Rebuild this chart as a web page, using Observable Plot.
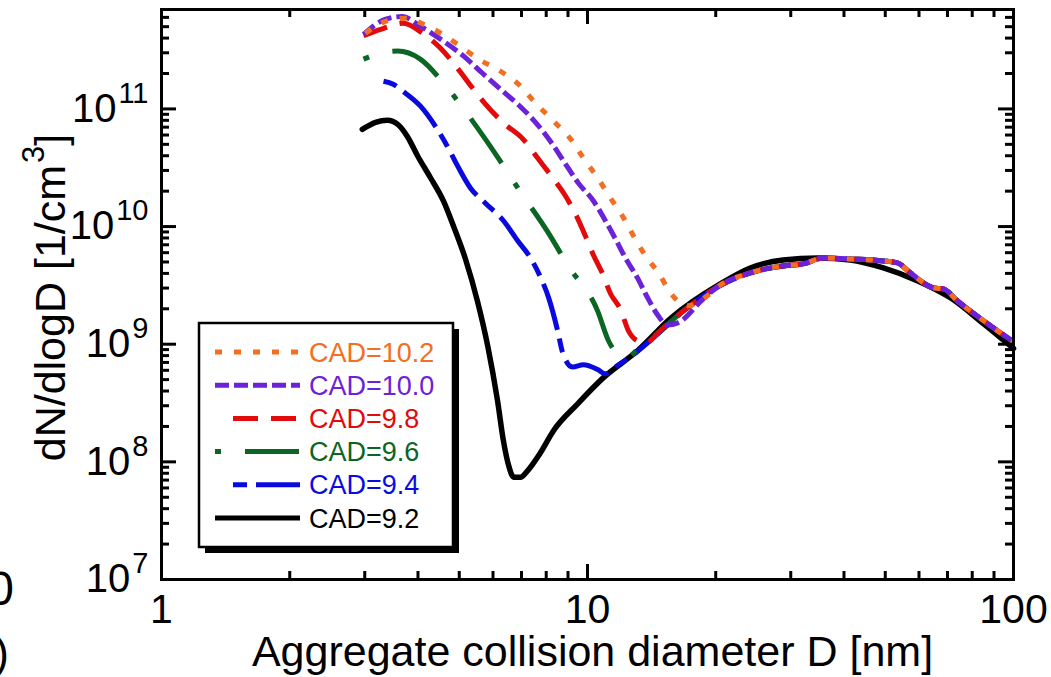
<!DOCTYPE html>
<html><head><meta charset="utf-8">
<script src="https://cdn.jsdelivr.net/npm/d3@7"></script>
<script src="https://cdn.jsdelivr.net/npm/@observablehq/plot@0.6"></script>
<style>
html,body{margin:0;padding:0;background:#fff;}
#wrap{position:relative;width:1051px;height:677px;overflow:hidden;font-family:"Liberation Sans",Arial,sans-serif;}
#overlay{position:absolute;left:0;top:0;pointer-events:none;}
</style></head><body><div id="wrap"></div>
<script>
// ---------- data ----------
const seriesNames = ["CAD=10.2","CAD=10.0","CAD=9.8","CAD=9.6","CAD=9.4","CAD=9.2"];
const seriesColors = ["#f26f21","#6b22d9","#e20a0a","#0b6623","#0a0adf","#000000"];
const seriesDash = ["7,12","14,5","25,13","6,24,54,24","14,9,48,9",null];

// CAD=9.2 (black)
const cad92D = [2.96,3.18,3.39,3.60,3.78,3.99,4.28,4.59,4.85,5.17,5.52,5.83,6.15,6.35,6.53,6.71,6.96,7.23,7.76,8.32,9.47,10.9,13.1,15.7,20.5,24.1,28.8,34.7,41.4,49.5,59.6,71.1,85.1,100];
const cad92N = [6.7e10,7.7e10,8.0e10,7.3e10,5.8e10,4.0e10,2.6e10,1.65e10,1.0e10,5.3e9,2.3e9,9.7e8,3.3e8,1.5e8,9.3e7,7.4e7,7.4e7,8.4e7,1.2e8,1.84e8,3.1e8,5.2e8,8.8e8,1.67e9,3.26e9,4.45e9,5.2e9,5.4e9,5.2e9,4.45e9,3.45e9,2.48e9,1.49e9,9.2e8];
// CAD=9.4 (blue)
const cad94D = [3.32,3.50,3.68,4.05,4.42,4.69,4.95,5.31,5.76,6.35,6.85,7.35,7.76,8.10,8.51,8.74,9.22,9.79,10.56,11.02,11.76,12.6,14.6];
const cad94N = [1.72e11,1.62e11,1.42e11,1.06e11,6.9e10,4.8e10,3.3e10,2.13e10,1.58e10,1.12e10,7.6e9,5.4e9,3.7e9,2.5e9,1.3e9,8.5e8,6.4e8,6.7e8,6.1e8,5.6e8,6.6e8,7.8e8,1.22e9];
// CAD=9.6 (green)
const cad96D = [2.98,3.27,3.58,4.05,4.59,5.23,6.18,6.89,8.10,9.02,10.56,11.2,11.76,12.4,13.1,14.1];
const cad96N = [2.65e11,2.98e11,3.1e11,2.65e11,1.66e11,9.0e10,3.8e10,2.08e10,8.8e9,4.6e9,1.92e9,1.07e9,8.3e8,7.7e8,9.0e8,1.11e9];
// CAD=9.8 (red)
const cad98D = [2.98,3.27,3.70,4.10,4.52,4.95,5.40,5.76,6.35,7.07,7.67,8.28,8.88,9.37,9.89,10.33,10.84,11.32,11.96,12.48,13.1,13.7,14.8];
const cad98N = [4.2e11,4.75e11,5.35e11,4.4e11,3.28e11,2.22e11,1.47e11,1.1e11,7.6e10,5.5e10,3.75e10,2.6e10,1.82e10,1.28e10,8.3e9,5.7e9,4.0e9,2.7e9,1.96e9,1.3e9,1.07e9,1.03e9,1.3e9];
// CAD=10.0 (purple)
const cad100D = [2.98,3.36,3.68,4.05,4.59,5.12,5.67,6.25,6.89,7.55,8.28,8.88,9.52,10.33,11.02,11.63,12.28,13.1,13.8,14.6,15.4,16.3,18.7];
const cad100N = [4.3e11,5.8e11,6.1e11,5.05e11,3.77e11,2.81e11,2.01e11,1.47e11,1.08e11,7.7e10,5.0e10,3.4e10,2.34e10,1.65e10,1.12e10,7.85e9,5.4e9,3.66e9,2.53e9,1.78e9,1.46e9,1.52e9,2.43e9];
// CAD=10.2 (orange)
const cad102D = [3.01,3.36,3.74,4.12,4.57,5.03,5.55,6.25,6.89,7.55,8.32,9.22,9.79,10.56,11.32,12.08,12.75,13.7,14.7,15.66,17.2,19.1];
const cad102N = [4.4e11,5.56e11,5.9e11,5.25e11,4.31e11,3.41e11,2.65e11,2.09e11,1.62e11,1.12e11,7.9e10,5.3e10,3.8e10,2.6e10,1.75e10,1.23e10,8.65e9,5.6e9,4.0e9,2.73e9,2.12e9,2.58e9];
// common large-size branch shared by the CAD >= 9.4 curves
const tailD = [16.8,20.2,24.1,28.8,32.1,35.8,41.4,49.5,53.4,57.3,64.9,68.5,73.9,85.1,100];
const tailN = [1.92e9,3.07e9,4.04e9,4.63e9,4.82e9,5.41e9,5.3e9,5.1e9,4.91e9,4.04e9,3.01e9,2.95e9,2.33e9,1.58e9,1.05e9];

const xMajor = [1,10,100];
const xMinor = [2,3,4,5,6,7,8,9,20,30,40,50,60,70,80,90];
const yMajor = [1e7,1e8,1e9,1e10,1e11];
const yMinor = [2e7,3e7,4e7,5e7,6e7,7e7,8e7,9e7,2e8,3e8,4e8,5e8,6e8,7e8,8e8,9e8,2e9,3e9,4e9,5e9,6e9,7e9,8e9,9e9,2e10,3e10,4e10,5e10,6e10,7e10,8e10,9e10,2e11,3e11,4e11,5e11,6e11];
const xTitle = "Aggregate collision diameter D [nm]";
const yTitle = "dN/dlogD [1/cm^{3}]";

// ---------- build table ----------
function withTail(D, N) {
  const last = D[D.length - 1];
  const d = D.slice(), n = N.slice();
  tailD.forEach((v, i) => { if (v > last) { d.push(v); n.push(tailN[i]); } });
  return [d, n];
}
const seriesData = [
  withTail(cad102D, cad102N),
  withTail(cad100D, cad100N),
  withTail(cad98D, cad98N),
  withTail(cad96D, cad96N),
  withTail(cad94D, cad94N),
  [cad92D, cad92N]
];
const rows = [];
seriesData.forEach(([D, N], s) => D.forEach((d, i) => rows.push({series: seriesNames[s], D: d, N: N[i]})));

// ---------- layout ----------
const W = 1051, H = 677;
const mTop = 9, mRight = 38, mBottom = 98, mLeft = 161;
const pw = W - mLeft - mRight, ph = H - mTop - mBottom;
const majLen = 15, minLen = 8;
const font = "Liberation Sans, Arial, sans-serif";

const lineMarks = [];
for (let s = seriesNames.length - 1; s >= 0; s--) {
  lineMarks.push(Plot.line(rows.filter(r => r.series === seriesNames[s]), {
    x: "D", y: "N", stroke: seriesColors[s], strokeWidth: s === 5 ? 5.5 : 5,
    strokeDasharray: seriesDash[s] || undefined,
    strokeLinecap: seriesDash[s] ? "butt" : "round",
    curve: "monotone-x"
  }));
}
const tk = {stroke: "black", strokeWidth: 3};
const chart = Plot.plot({
  width: W, height: H,
  marginTop: mTop, marginRight: mRight, marginBottom: mBottom, marginLeft: mLeft,
  x: {type: "log", domain: [1, 100], axis: null},
  y: {type: "log", domain: [1e7, 7e11], axis: null},
  style: {fontFamily: font, background: "white", color: "black", overflow: "visible"},
  marks: [
    ...lineMarks,
    Plot.tickY(yMajor, {y: d => d, insetRight: pw - majLen, ...tk}),
    Plot.tickY(yMajor, {y: d => d, insetLeft: pw - majLen, ...tk}),
    Plot.tickY(yMinor, {y: d => d, insetRight: pw - minLen, ...tk}),
    Plot.tickY(yMinor, {y: d => d, insetLeft: pw - minLen, ...tk}),
    Plot.tickX(xMajor, {x: d => d, insetTop: ph - majLen, ...tk}),
    Plot.tickX(xMajor, {x: d => d, insetBottom: ph - majLen, ...tk}),
    Plot.tickX(xMinor, {x: d => d, insetTop: ph - minLen, ...tk}),
    Plot.tickX(xMinor, {x: d => d, insetBottom: ph - minLen, ...tk}),
    Plot.frame({stroke: "black", strokeWidth: 3}),
    Plot.text(xMajor, {x: d => d, text: d => String(d), frameAnchor: "bottom", lineAnchor: "top", dy: 14, fontSize: 41, fill: "black"}),
    Plot.text(yMajor, {y: d => d, text: d => "10^{" + Math.round(Math.log10(d)) + "}", frameAnchor: "left", textAnchor: "end", lineAnchor: "middle", dx: -13, fontSize: 40, fill: "black"}),
    Plot.text([xTitle], {frameAnchor: "bottom", text: d => d, lineAnchor: "middle", textAnchor: "middle", dy: 73, dx: 5, fontSize: 43, fill: "black"}),
    Plot.text([yTitle], {frameAnchor: "left", text: d => d, rotate: -90, textAnchor: "middle", lineAnchor: "middle", dx: -110, dy: 3, fontSize: 43, fill: "black"})
  ]
});
const wrap = document.getElementById("wrap");
wrap.appendChild(chart);

// superscripts: "a^{b}c"
d3.select(chart).selectAll("text").each(function () {
  const t = this.textContent;
  if (!t.includes("^{")) return;
  const fs = parseFloat(getComputedStyle(this).fontSize) || 40;
  const sup = Math.round(fs * 0.72), raise = Math.round(fs * 0.48);
  const parts = t.split(/\^\{([^}]*)\}/);
  const sel = d3.select(this);
  sel.text(null);
  parts.forEach((p, i) => {
    if (!p) return;
    const ts = sel.append("tspan").text(p);
    if (i % 2 === 1) ts.attr("font-size", sup).attr("dy", -raise).attr("dx", 2);
    else if (i > 0) ts.attr("dy", raise);
  });
});

// ---------- legend & edge fragments ----------
const ov = d3.select(wrap).append("svg").attr("id", "overlay").attr("width", W).attr("height", H)
  .style("font-family", font);
const lg = {x: 199, y: 323, w: 254, h: 224, shadow: 6};
ov.append("rect").attr("x", lg.x + lg.shadow).attr("y", lg.y + lg.shadow).attr("width", lg.w).attr("height", lg.h).attr("fill", "black");
ov.append("rect").attr("x", lg.x).attr("y", lg.y).attr("width", lg.w).attr("height", lg.h).attr("fill", "white").attr("stroke", "black").attr("stroke-width", 2.5);
const lineStart = [215, 215, 233, 215, 233, 215];
seriesNames.forEach((name, s) => {
  const cy = 352 + s * 33.2;
  ov.append("line").attr("x1", lineStart[s]).attr("x2", 300).attr("y1", cy).attr("y2", cy)
    .attr("stroke", seriesColors[s]).attr("stroke-width", 5)
    .attr("stroke-dasharray", seriesDash[s] || null).attr("stroke-linecap", "butt");
  ov.append("text").attr("x", 309).attr("y", cy + 9.5).attr("font-size", 27).attr("fill", seriesColors[s]).text(name);
});
ov.append("text").attr("x", 14).attr("y", 605).attr("text-anchor", "end").attr("font-size", 48).text("0");
ov.append("text").attr("x", 9).attr("y", 668).attr("text-anchor", "end").attr("font-size", 44).text(")");
</script></body></html>
